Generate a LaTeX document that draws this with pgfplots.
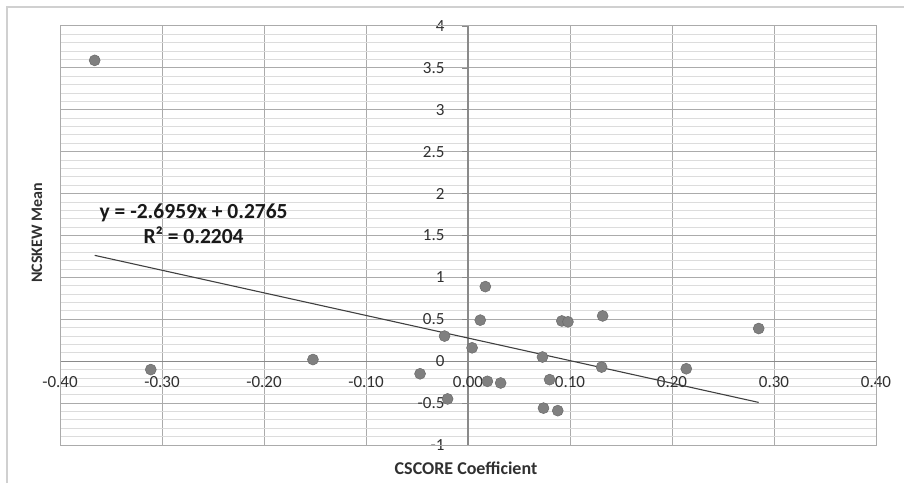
\documentclass[border=0pt]{standalone}
\usepackage{fontspec}
\setmainfont{Carlito}
\usepackage{pgfplots}
\pgfplotsset{compat=1.18}

\definecolor{dotfill}{HTML}{808080}
\definecolor{dotedge}{HTML}{6A6A6A}
\definecolor{majgrid}{HTML}{ABABAB}
\definecolor{mingrid}{HTML}{DCDCDC}
\definecolor{zeroline}{HTML}{8A8A8A}
\definecolor{frame}{HTML}{D0D0D0}
\definecolor{txt}{HTML}{303030}

\begin{document}
\begin{tikzpicture}[x=1pt,y=1pt]
  \useasboundingbox (0,0) rectangle (904,483);
  \draw[frame, line width=1.5pt] (7,0) -- (7,476) -- (904,476);

  \begin{axis}[
    at={(60pt,38pt)}, anchor=south west,
    scale only axis, width=816pt, height=419pt,
    xmin=-0.4, xmax=0.4, ymin=-1, ymax=4,
    axis lines=middle,
    hide obscured x ticks=false, hide obscured y ticks=false,
    inner axis line style={-, draw=zeroline, line width=1.3pt},
    xtick={-0.4,-0.3,-0.2,-0.1,0,0.1,0.2,0.3,0.4},
    ytick={-1,-0.5,0,0.5,1,1.5,2,2.5,3,3.5,4},
    minor y tick num=4,
    xmajorgrids, ymajorgrids, yminorgrids,
    major grid style={majgrid, line width=1pt},
    minor grid style={mingrid, line width=0.9pt},
    major tick length=6pt, minor tick length=0pt,
    tick align=outside,
    tick style={zeroline, line width=0.8pt},
    xtick style={draw=none},
    /pgf/number format/assume math mode=true,
    x tick label style={/pgf/number format/.cd, fixed, fixed zerofill, precision=2, /tikz/.cd,
      font=\fontsize{17}{20}\selectfont, text=txt, anchor=north, yshift=-6pt},
    y tick label style={font=\fontsize{17}{20}\selectfont, text=txt, anchor=east, xshift=-14pt},
    clip=false,
  ]
    % plot-area border
    \draw[majgrid, line width=1pt] (rel axis cs:0,0) rectangle (rel axis cs:1,1);

    % firm-level observations
    \addplot[only marks, mark=*, mark size=5.5pt,
      mark options={fill=dotfill, draw=dotedge, line width=0.5pt}] coordinates {
      (-0.366, 3.59)
      (-0.311, -0.10)
      (-0.152, 0.02)
      (-0.047, -0.15)
      (-0.023, 0.30)
      (-0.020, -0.45)
      (0.004, 0.16)
      (0.012, 0.49)
      (0.017, 0.89)
      (0.019, -0.24)
      (0.032, -0.26)
      (0.073, 0.05)
      (0.074, -0.56)
      (0.080, -0.22)
      (0.088, -0.59)
      (0.092, 0.48)
      (0.098, 0.47)
      (0.132, 0.54)
      (0.131, -0.07)
      (0.214, -0.09)
      (0.285, 0.39)
    };

    % linear trend y = -2.6959x + 0.2765
    \addplot[draw=black!75, line width=1.1pt, no marks] coordinates {
      (-0.366, 1.2632) (0.285, -0.4918)
    };

    \node[font=\fontsize{21.5}{25}\selectfont\bfseries, text=black!90, align=center]
      at (axis cs:-0.269,1.64) {y = -2.6959x + 0.2765\\R² = 0.2204};
  \end{axis}

  \node[rotate=90, font=\fontsize{16}{19}\selectfont\bfseries, text=txt] at (37,250) {NCSKEW Mean};
  \node[font=\fontsize{18}{21}\selectfont\bfseries, text=txt] at (466,15) {CSCORE Coefficient};
\end{tikzpicture}
\end{document}
